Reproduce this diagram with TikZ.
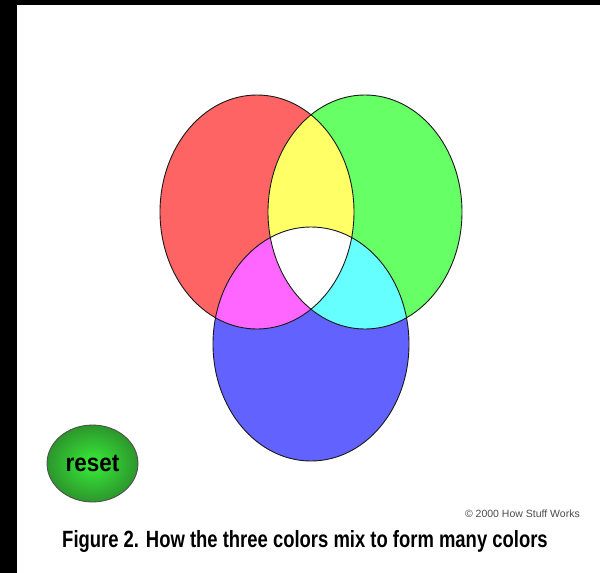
\documentclass[tikz,border=0pt]{standalone}
\usepackage{fontspec}
\setmainfont{Liberation Sans}
\newfontfamily\capfont[FakeStretch=0.785]{Liberation Sans}
\newfontfamily\btnfont[FakeStretch=0.9]{Liberation Sans}
\usepackage{tikz}
\usetikzlibrary{positioning,shapes.geometric}

\definecolor{redlight}{HTML}{FF6464}
\definecolor{greenlight}{HTML}{66FF66}
\definecolor{bluelight}{HTML}{6262FF}
\definecolor{yellowlight}{HTML}{FFFF66}
\definecolor{magentalight}{HTML}{FF66FF}
\definecolor{cyanlight}{HTML}{66FFFF}
\definecolor{btninner}{HTML}{38EE38}
\definecolor{btnouter}{HTML}{2C962C}

\begin{document}
\begin{tikzpicture}[x=1pt,y=-1pt]
\tikzstyle{rim}=[draw=black!90,line width=0.9pt]
\tikzstyle{btn}=[ellipse,draw=black!70,line width=0.8pt,shading=radial,inner color=btninner,outer color=btnouter,minimum width=91pt,minimum height=77pt]
\useasboundingbox (0,0) rectangle (600,573);
\fill[white] (0,0) rectangle (600,573);
% black frame bits
\fill[black] (0,0) rectangle (600,5);
\fill[black] (0,0) rectangle (17,573);
% the three lamps
\def\redlamp{(257,212) ellipse [x radius=97,y radius=117]}
\def\greenlamp{(365,212) ellipse [x radius=97,y radius=117]}
\def\bluelamp{(311,344) ellipse [x radius=98,y radius=117]}
\fill[redlight] \redlamp;
\fill[greenlight] \greenlamp;
\fill[bluelight] \bluelamp;
\begin{scope}
\clip \redlamp;
\fill[yellowlight] \greenlamp;
\fill[magentalight] \bluelamp;
\end{scope}
\begin{scope}
\clip \greenlamp;
\fill[cyanlight] \bluelamp;
\end{scope}
\begin{scope}
\clip \redlamp;
\clip \greenlamp;
\fill[white] \bluelamp;
\end{scope}
\draw[rim] \redlamp;
\draw[rim] \greenlamp;
\draw[rim] \bluelamp;
% button and texts
\node[btn] (reset) at (92.5,463.5) {\btnfont\bfseries\fontsize{25}{25}\selectfont reset};
\node[anchor=base east,text=black!70,inner sep=0pt] (copy) at (580,517) {\fontsize{10.5}{10.5}\selectfont \textcopyright{} 2000 How Stuff Works};
\node[anchor=base,inner sep=0pt] (caption) at (305,547) {\capfont\bfseries\fontsize{23.5}{23.5}\selectfont Figure 2. How the three colors mix to form many colors};
\end{tikzpicture}
\end{document}
